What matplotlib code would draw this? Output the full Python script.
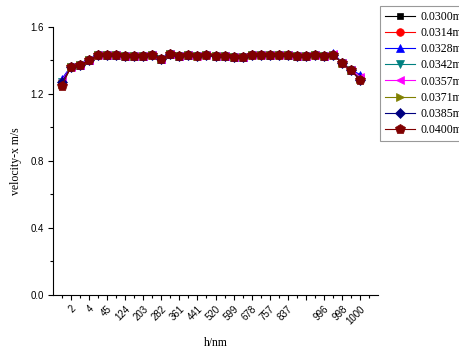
import matplotlib
matplotlib.use("Agg")
import matplotlib.pyplot as plt
from matplotlib.ticker import MultipleLocator

# category positions and their h/nm labels (label 916 not shown in the original)
pos = list(range(1, 35))
h_labels = ["1", "2", "3", "4", "5", "45", "85", "124", "164", "203", "243", "282",
            "322", "361", "401", "441", "480", "520", "560", "599", "639", "678",
            "718", "757", "797", "837", "876", "", "955", "996", "997", "998",
            "999", "1000"]

names = ["0.0300m/s", "0.0314m/s", "0.0328m/s", "0.0342m/s",
         "0.0357m/s", "0.0371m/s", "0.0385m/s", "0.0400m/s"]

v0300 = [1.26, 1.36, 1.37, 1.40, 1.435, 1.435, 1.43, 1.425, 1.425, 1.425, 1.435, 1.41,
         1.44, 1.425, 1.43, 1.425, 1.432, 1.425, 1.425, 1.42, 1.42, 1.435, 1.432, 1.43,
         1.435, 1.43, 1.425, 1.425, 1.43, 1.425, 1.435, 1.385, 1.34, 1.29]
v0314 = [1.27, 1.36, 1.37, 1.40, 1.435, 1.435, 1.43, 1.425, 1.425, 1.425, 1.435, 1.41,
         1.44, 1.425, 1.43, 1.425, 1.43, 1.425, 1.425, 1.42, 1.42, 1.435, 1.43, 1.43,
         1.435, 1.43, 1.425, 1.425, 1.43, 1.425, 1.435, 1.385, 1.34, 1.30]
v0328 = [1.29, 1.365, 1.372, 1.40, 1.438, 1.435, 1.43, 1.428, 1.425, 1.425, 1.436, 1.41,
         1.44, 1.427, 1.43, 1.43, 1.44, 1.425, 1.425, 1.42, 1.42, 1.437, 1.44, 1.43,
         1.44, 1.43, 1.425, 1.425, 1.44, 1.425, 1.442, 1.39, 1.345, 1.315]
v0342 = [1.27, 1.36, 1.37, 1.40, 1.435, 1.435, 1.43, 1.425, 1.425, 1.425, 1.435, 1.41,
         1.44, 1.425, 1.43, 1.425, 1.43, 1.425, 1.425, 1.42, 1.42, 1.435, 1.43, 1.43,
         1.435, 1.43, 1.425, 1.425, 1.43, 1.425, 1.435, 1.385, 1.34, 1.29]
v0357 = [1.28, 1.36, 1.37, 1.40, 1.435, 1.435, 1.43, 1.425, 1.425, 1.425, 1.435, 1.41,
         1.44, 1.425, 1.43, 1.425, 1.435, 1.425, 1.425, 1.42, 1.42, 1.435, 1.435, 1.43,
         1.435, 1.43, 1.425, 1.425, 1.435, 1.425, 1.438, 1.385, 1.345, 1.30]
v0371 = [1.26, 1.36, 1.37, 1.40, 1.435, 1.435, 1.43, 1.425, 1.425, 1.425, 1.435, 1.41,
         1.44, 1.425, 1.43, 1.425, 1.43, 1.425, 1.425, 1.42, 1.42, 1.435, 1.43, 1.43,
         1.435, 1.43, 1.425, 1.425, 1.43, 1.425, 1.435, 1.385, 1.34, 1.29]
v0385 = [1.27, 1.36, 1.37, 1.40, 1.435, 1.435, 1.43, 1.425, 1.425, 1.425, 1.435, 1.41,
         1.44, 1.425, 1.43, 1.425, 1.43, 1.425, 1.425, 1.42, 1.42, 1.435, 1.43, 1.43,
         1.435, 1.43, 1.425, 1.425, 1.43, 1.425, 1.435, 1.385, 1.34, 1.285]
v0400 = [1.25, 1.36, 1.37, 1.40, 1.435, 1.435, 1.43, 1.425, 1.425, 1.425, 1.435, 1.41,
         1.44, 1.425, 1.43, 1.425, 1.43, 1.425, 1.425, 1.42, 1.42, 1.435, 1.43, 1.43,
         1.435, 1.43, 1.425, 1.425, 1.43, 1.425, 1.435, 1.385, 1.34, 1.28]

series = [v0300, v0314, v0328, v0342, v0357, v0371, v0385, v0400]
colors = ["black", "red", "blue", "#008080", "magenta", "#808000", "#000080", "#800000"]
markers = ["s", "o", "^", "v", "<", ">", "D", "p"]
msizes = [5, 5.5, 6, 6, 6, 6, 5, 7]

fig = plt.figure(figsize=(4.6, 3.49), dpi=100)
ax = fig.add_axes([0.115, 0.155, 0.707, 0.768])

for vals, name, c, m, ms in zip(series, names, colors, markers, msizes):
    ax.plot(pos, vals, color=c, marker=m, markersize=ms, linewidth=0.8,
            markeredgewidth=0.5, label=name)

ax.set_xlim(0, 36)
ax.set_ylim(0, 1.6)
ax.yaxis.set_major_locator(MultipleLocator(0.4))
ax.yaxis.set_minor_locator(MultipleLocator(0.2))
ax.set_yticklabels([f"{t:.1f}" for t in ax.get_yticks()], family="Liberation Sans", fontsize=7)

major_pos = [p for p in pos if p % 2 == 0]
ax.set_xticks(major_pos)
ax.set_xticks([p for p in range(1, 36) if p % 2 == 1], minor=True)
ax.set_xticklabels([h_labels[p - 1] for p in major_pos], rotation=45, ha="right",
                   rotation_mode="anchor", family="Liberation Sans", fontsize=7)

ax.tick_params(which="major", direction="out", length=3.5, width=0.8, pad=3)
ax.tick_params(which="minor", direction="out", length=2, width=0.8)
ax.spines["top"].set_visible(False)
ax.spines["right"].set_visible(False)

ax.set_xlabel("h/nm", family="Liberation Serif", fontsize=8.5, labelpad=8)
ax.set_ylabel("velocity-x m/s", family="Liberation Serif", fontsize=8.5, labelpad=6)

leg = fig.legend(loc="upper left", bbox_to_anchor=(0.826, 0.982),
                 prop={"family": "Liberation Serif", "size": 8.5},
                 frameon=True, fancybox=False, edgecolor="gray",
                 handlelength=2.6, labelspacing=0.35, borderpad=0.4,
                 handletextpad=0.4, borderaxespad=0)
leg.get_frame().set_linewidth(0.8)

fig.savefig("out.png", dpi=100)
